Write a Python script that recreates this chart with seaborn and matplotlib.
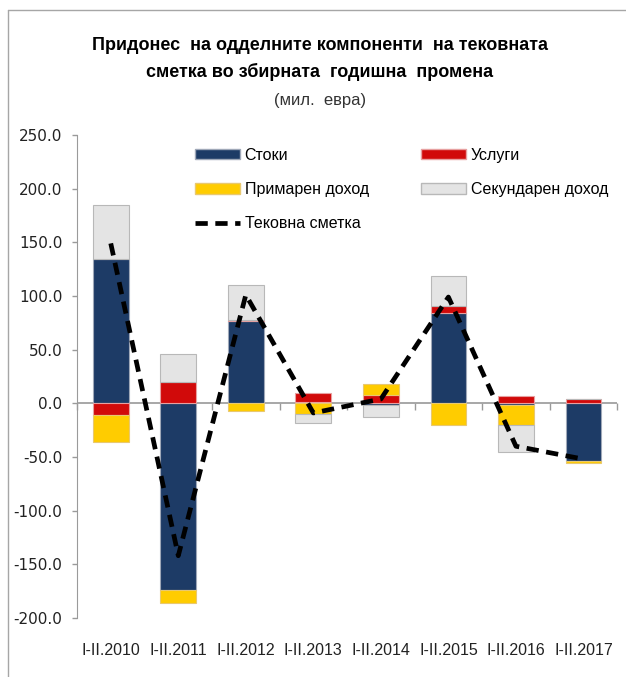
import numpy as np
import pandas as pd
import matplotlib
matplotlib.use("Agg")
import matplotlib.pyplot as plt
import seaborn as sns
from matplotlib.lines import Line2D
from matplotlib.patches import Patch

# Data (mil. EUR)
periods = ["I-II.2010", "I-II.2011", "I-II.2012", "I-II.2013",
           "I-II.2014", "I-II.2015", "I-II.2016", "I-II.2017"]
goods = [134.0, -173.6, 77.0, 1.5, -2.0, 84.0, -1.5, -54.2]
services = [-10.7, 19.4, 0.5, 8.0, 8.0, 6.8, 6.5, 4.0]
primary = [-25.8, -12.4, -7.5, -9.5, 10.0, -20.6, -18.5, -1.6]
secondary = [51.0, 26.4, 32.5, -9.0, -11.0, 28.2, -25.5, 0.0]
current = [149.0, -142.0, 101.0, -9.0, 4.0, 99.0, -40.0, -52.0]

names = ["Стоки", "Услуги", "Примарен доход", "Секундарен доход"]
df = pd.DataFrame(dict(zip(names, [goods, services, primary, secondary])), index=periods)

face = {"Стоки": "#1D3B66", "Услуги": "#D10A0A",
        "Примарен доход": "#FFCC00", "Секундарен доход": "#E4E4E4"}
edge = {"Стоки": "#9FA8B8", "Услуги": "#E7A0A0",
        "Примарен доход": "#E8C870", "Секундарен доход": "#B8B8B8"}

sns.set_style("white")
plt.rcParams["font.family"] = ["Liberation Sans", "DejaVu Sans"]

fig, ax = plt.subplots(figsize=(6.26, 6.77), dpi=100)
fig.subplots_adjust(left=0.123, right=0.986, bottom=0.0872, top=0.8006)

x = np.arange(len(periods))
pos_base = np.zeros(len(periods))
neg_base = np.zeros(len(periods))
for name in names:
    vals = df[name].to_numpy()
    base = np.where(vals >= 0, pos_base, neg_base)
    ax.bar(x, vals, bottom=base, width=0.53, color=face[name],
           edgecolor=edge[name], linewidth=0.8, zorder=2)
    pos_base += np.clip(vals, 0, None)
    neg_base += np.clip(vals, None, 0)

ax.axhline(0, color="#A0A0A0", linewidth=1.3, zorder=1)

sns.lineplot(x=x, y=current, ax=ax, color="black", linewidth=3.4,
             linestyle=(0, (2.6, 1.6)), zorder=3)

ymin, ymax = -200, 250
ax.set_xlim(-0.5, len(periods) - 0.5)
ax.set_ylim(ymin, ymax)
ax.set_yticks(np.arange(ymin, ymax + 1, 50))
ax.set_yticklabels([f"{v:.1f}" for v in np.arange(ymin, ymax + 1, 50)],
                   family="DejaVu Sans", fontsize=11, color="#222222")
ax.tick_params(axis="y", left=True, length=3.6, width=1, color="#9A9A9A", pad=7)
ax.set_xticks(x)
ax.set_xticklabels(periods, fontsize=11.5, color="#222222")
ax.tick_params(axis="x", bottom=False, length=0, pad=18)
for s in ["top", "right", "bottom"]:
    ax.spines[s].set_visible(False)
ax.spines["left"].set_color("#9A9A9A")
ax.set_xlabel("")
ax.set_ylabel("")

# category axis crossing at zero
sec = ax.secondary_xaxis((0 - ymin) / (ymax - ymin))
sec.set_xticks(np.arange(-0.5, len(periods)))
sec.tick_params(axis="x", bottom=True, top=False, direction="out", length=5,
                width=1, color="#9A9A9A", labelbottom=False, labeltop=False)
sec.spines["bottom"].set_visible(False)

handles = [Patch(facecolor=face["Стоки"], edgecolor=edge["Стоки"]),
           Patch(facecolor=face["Примарен доход"], edgecolor=edge["Примарен доход"]),
           Line2D([0], [0], color="black", linewidth=3.4, linestyle=(0, (2.6, 1.6))),
           Patch(facecolor=face["Услуги"], edgecolor=edge["Услуги"]),
           Patch(facecolor=face["Секундарен доход"], edgecolor=edge["Секундарен доход"])]
labels = ["Стоки", "Примарен доход", "Тековна сметка", "Услуги", "Секундарен доход"]
leg = ax.legend(handles, labels, ncol=2, loc="upper left",
                bbox_to_anchor=(195 / 626, 1 - 148 / 677), bbox_transform=fig.transFigure,
                frameon=False, fontsize=11.5, handlelength=2.8, handleheight=0.6,
                handletextpad=0.3, columnspacing=3.3, labelspacing=1.2,
                borderpad=0, borderaxespad=0)
for t in leg.get_texts():
    t.set_color("black")

fig.text(0.511, 1 - 45 / 677, "Придонес  на одделните компоненти  на тековната",
         ha="center", va="center", fontsize=13, fontweight="bold", color="black")
fig.text(0.511, 1 - 72 / 677, "сметка во збирната  годишна  промена",
         ha="center", va="center", fontsize=13, fontweight="bold", color="black")
fig.text(0.511, 1 - 100 / 677, "(мил.  евра)",
         ha="center", va="center", fontsize=12, color="#333333")

# frame
fig.add_artist(Line2D([8 / 626, 8 / 626], [0, 1 - 10 / 677], transform=fig.transFigure,
                      color="#A6A6A6", linewidth=1))
fig.add_artist(Line2D([8 / 626, 1], [1 - 10 / 677, 1 - 10 / 677], transform=fig.transFigure,
                      color="#A6A6A6", linewidth=1))

fig.savefig("out.png", dpi=100)
